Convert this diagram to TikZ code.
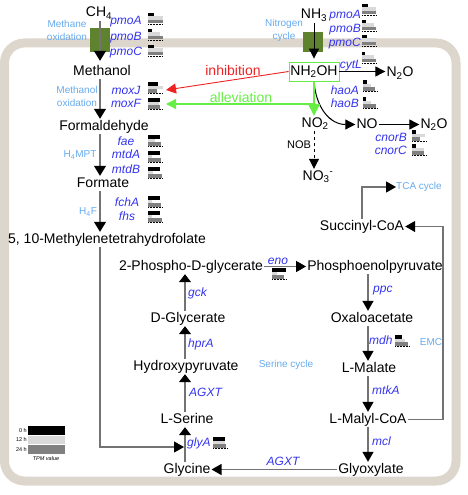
\documentclass[tikz,border=0pt]{standalone}
\usepackage{fontspec}
\setmainfont{Liberation Sans}
\usetikzlibrary{arrows.meta}
\definecolor{geneblue}{RGB}{51,51,238}
\definecolor{lblue}{RGB}{102,170,238}
\definecolor{bandcol}{RGB}{221,214,204}
\definecolor{olivecol}{RGB}{94,130,45}
\definecolor{flowgray}{RGB}{115,115,115}
\definecolor{inhred}{RGB}{238,34,34}
\definecolor{allgreen}{RGB}{102,238,68}
\definecolor{barlight}{RGB}{217,217,217}
\definecolor{bardark}{RGB}{128,128,128}
\newcommand\geneicon[5]{%
  \fill[black] (#1,#2) rectangle ++(#3,3.5);
  \fill[barlight] (#1,#2+3.5) rectangle ++(#4,3.5);
  \fill[bardark] (#1,#2+7) rectangle ++(#5,3.5);
  \draw[densely dotted, line width=0.5pt] (#1,#2+11.5) -- ++(15,0);
}
\begin{document}
\begin{tikzpicture}[x=1pt,y=-1pt,
  met/.style={font=\fontsize{14}{16}\selectfont, inner sep=1pt, text height=10pt, text depth=3pt, anchor=base},
  gene/.style={font=\fontsize{12}{14}\selectfont\itshape, text=geneblue, inner sep=0pt, text height=8.5pt, text depth=2.5pt},
  proc/.style={font=\fontsize{10}{13}\selectfont, text=lblue, inner sep=0pt, align=center},
  legtext/.style={font=\fontsize{5.5}{6}\selectfont, inner sep=0.5pt},
  nbox/.style={draw=allgreen, line width=0.8pt, minimum width=50pt, minimum height=19pt, inner sep=0pt, font=\fontsize{14}{16}\selectfont},
  mflow/.style={draw=flowgray, line width=1.3pt, -{Triangle[length=10pt,width=12pt,color=black]}},
  flow/.style={draw=flowgray, line width=1.2pt, -{Triangle[length=10pt,width=11pt,color=black]}},
  sflow/.style={draw=flowgray, line width=1.2pt, -{Triangle[length=8pt,width=12pt,color=black]}},
  nflow/.style={draw=black, line width=1pt, -{Triangle[length=10pt,width=10pt]}},
  gflow/.style={draw=allgreen, line width=1.2pt, -{Triangle[length=12pt,width=12pt]}},
  rflow/.style={draw=inhred, line width=0.9pt, -{Triangle[length=10pt,width=10pt]}},
]
\useasboundingbox (0,0) rectangle (467,495);
% background band
\draw[draw=bandcol, line width=9pt, rounded corners=20pt] (4.5,43) rectangle (456,481);
% green membrane blocks
\fill[olivecol] (90,28) rectangle (110,52);
\fill[olivecol] (303,32) rectangle (323,52);

\coordinate (colA) at (100,0);
\coordinate (colB) at (185,0);
\coordinate (colC) at (368,0);
\coordinate (colN) at (314,0);
\coordinate (colR) at (443,0);

% methane branch
\node[met] (ch4) at (99,17) {CH\textsubscript{4}};
\node[met] (methanol) at (102,75) {Methanol};
\node[met] (formald) at (104,130) {Formaldehyde};
\node[met] (formate) at (103,187) {Formate};
\node[met] (mthf) at (107,243) {5, 10-Methylenetetrahydrofolate};

\node[proc] (pmeth) at (67,30) {Methane\\oxidation};
\node[proc] (pmol) at (77,96) {Methanol\\oxidation};
\node[proc] (ph4mpt) at (80,155) {H\textsubscript{4}MPT};
\node[proc] (ph4f) at (88,212) {H\textsubscript{4}F};

\node[gene] (g1) at (126,22) {pmoA};
\node[gene] (g2) at (126,38) {pmoB};
\node[gene] (g3) at (126,53) {pmoC};
\node[gene] (g4) at (126,91) {moxJ};
\node[gene] (g5) at (126,104) {moxF};
\node[gene] (g6) at (126,142) {fae};
\node[gene] (g7) at (126,155) {mtdA};
\node[gene] (g8) at (126,170) {mtdB};
\node[gene] (g9) at (127,203) {fchA};
\node[gene] (g10) at (127,217) {fhs};

\geneicon{148}{13}{6}{15}{15}
\geneicon{148}{29}{4}{12}{15}
\geneicon{148}{45}{6}{15}{15}
\geneicon{148}{82}{10}{15}{9}
\geneicon{148}{98}{12}{11}{12}
\geneicon{148}{135}{12}{7}{13}
\geneicon{148}{151}{12}{4}{13}
\geneicon{148}{167}{12}{5}{14}
\geneicon{148}{196}{12}{4}{13}
\geneicon{148}{211}{12}{4}{14}

\draw[mflow, shorten >=3pt] (ch4.south -| colA) -- (methanol.north -| colA);
\draw[mflow] (methanol.south -| colA) -- (formald.north -| colA);
\draw[mflow] (formald.south -| colA) -- (formate.north -| colA);
\draw[mflow] (formate.south -| colA) -- (mthf.north -| colA);

% nitrogen branch
\node[met] (nh3) at (314,19) {NH\textsubscript{3}};
\node[nbox] (nh2oh) at (314,71.5) {NH\textsubscript{2}OH};
\node[met] (n2oa) at (400,77) {N\textsubscript{2}O};
\node[met] (no2) at (317,127) {NO\textsubscript{2}\textsuperscript{-}};
\node[met] (no) at (367,128) {NO};
\node[met] (n2ob) at (434,128) {N\textsubscript{2}O};
\node[met] (no3) at (318,180) {NO\textsubscript{3}\textsuperscript{-}};
\node[font=\fontsize{11}{13}\selectfont, inner sep=0pt] (nob) at (299,145) {NOB};
\node[proc] (pnit) at (284,30) {Nitrogen\\cycle};

\node[gene, anchor=east] (n1) at (361,16) {pmoA};
\node[gene, anchor=east] (n2) at (361,30) {pmoB};
\node[gene, anchor=east] (n3) at (361,44) {pmoC};
\node[gene, anchor=east] (n4) at (362,66) {cytL};
\node[gene, anchor=east] (n5) at (359,91) {haoA};
\node[gene, anchor=east] (n6) at (359,104) {haoB};
\node[gene, anchor=east] (n7) at (407,138) {cnorB};
\node[gene, anchor=east] (n8) at (407,151) {cnorC};

\geneicon{362}{4}{6}{14}{14}
\geneicon{362}{20}{4}{12}{14}
\geneicon{362}{35}{5}{14}{14}
\geneicon{362}{52}{3}{12}{14}
\geneicon{363}{80}{4}{8}{12}
\geneicon{363}{97}{3}{8}{13}
\geneicon{412}{130}{4}{13}{8}
\geneicon{412}{144}{4}{12}{12}

\draw[nflow, shorten >=3pt] (nh3.south -| colN) -- (nh2oh.north -| colN);
\draw[nflow] (nh2oh.east) -- (nh2oh.east -| n2oa.west);
\draw[nflow] (nh2oh.south) .. controls (316,108) and (330,124.5) .. (no.west);
\draw[nflow] (no.east) -- (n2ob.west);
\draw[nflow, dashed] (no2.south -| colN) -- (no3.north -| colN);
\draw[gflow] (nh2oh.south) -- (no2.north -| colN);

% inhibition / alleviation
\coordinate (gj) at (314,104);
\coordinate (moxFtip) at (166,104);
\coordinate (moxJtip) at (166,90);
\draw[gflow, -{Triangle[length=10pt,width=10pt]}] (gj) -- (moxFtip);
\draw[rflow] (nh2oh.west) -- (moxJtip);
\node[font=\fontsize{14}{16}\selectfont, text=inhred, inner sep=0pt, anchor=base] (inh) at (233,75) {inhibition};
\node[font=\fontsize{14}{16}\selectfont, text=allgreen, inner sep=0pt, anchor=base] (all) at (241,102) {alleviation};

% serine cycle
\node[met] (phospho) at (191,270) {2-Phospho-D-glycerate};
\node[met] (dglyc) at (188,322) {D-Glycerate};
\node[met] (hydroxy) at (186,370) {Hydroxypyruvate};
\node[met] (lserine) at (187,423) {L-Serine};
\node[met] (glycine) at (187,473) {Glycine};
\node[proc] (pser) at (286,365) {Serine cycle};

\node[gene, anchor=west] (s1) at (188,293) {gck};
\node[gene, anchor=west] (s2) at (188,344) {hprA};
\node[gene, anchor=west] (s3) at (189,393) {AGXT};
\node[gene, anchor=west] (s4) at (187,443) {glyA};
\node[gene] (s5) at (278,261) {eno};
\node[gene] (s6) at (283,462) {AGXT};
\geneicon{272}{268}{14}{5}{12}
\geneicon{213}{437}{12}{12}{13}

\coordinate (gin) at (184,447);
\draw[flow] (mthf.south -| colA) |- (gin);
\draw[sflow] (glycine.north -| colB) -- (lserine.south -| colB);
\draw[sflow] (lserine.north -| colB) -- (hydroxy.south -| colB);
\draw[sflow] (hydroxy.north -| colB) -- (dglyc.south -| colB);
\draw[sflow] (dglyc.north -| colB) -- (phospho.south -| colB);

% EMC
\node[met] (pep) at (375,270) {Phosphoenolpyruvate};
\node[met] (oxalo) at (372,322) {Oxaloacetate};
\node[met] (lmalate) at (369,372) {L-Malate};
\node[met] (malyl) at (368,423) {L-Malyl-CoA};
\node[met] (glyox) at (371,473) {Glyoxylate};
\node[met] (succ) at (362,230) {Succinyl-CoA};
\node[proc] (tca) at (419,187) {TCA cycle};
\node[proc] (emc) at (431,342) {EMC};

\node[gene, anchor=west] (e1) at (373,289) {ppc};
\node[gene, anchor=west] (e2) at (369,341) {mdh};
\node[gene, anchor=west] (e3) at (372,391) {mtkA};
\node[gene, anchor=west] (e4) at (372,442) {mcl};
\geneicon{395}{335}{7}{10}{13}

\draw[flow] (phospho.east) -- (pep.west);
\draw[flow] (pep.south -| colC) -- (oxalo.north -| colC);
\draw[flow] (oxalo.south -| colC) -- (lmalate.north -| colC);
\draw[flow] (lmalate.south -| colC) -- (malyl.north -| colC);
\draw[flow] (malyl.south -| colC) -- (glyox.north -| colC);
\draw[flow] (glyox.west) -- (glycine.east);
\draw[flow] (malyl.east) -- (malyl.east -| colR) -- (succ.east -| colR) -- (succ.east);
\draw[flow] (succ.north) |- (tca.west);

% legend
\fill[black] (28,426) rectangle (65,435);
\fill[barlight] (28,436) rectangle (65,444);
\fill[bardark] (28,445) rectangle (65,454);
\node[legtext, anchor=east] (l0) at (27.5,430.5) {0 h};
\node[legtext, anchor=east] (l1) at (27.5,440) {12 h};
\node[legtext, anchor=east] (l2) at (27.5,449.5) {24 h};
\node[legtext, font=\fontsize{5.5}{6}\selectfont\itshape] (tpm) at (46,459) {TPM value};
\end{tikzpicture}
\end{document}
